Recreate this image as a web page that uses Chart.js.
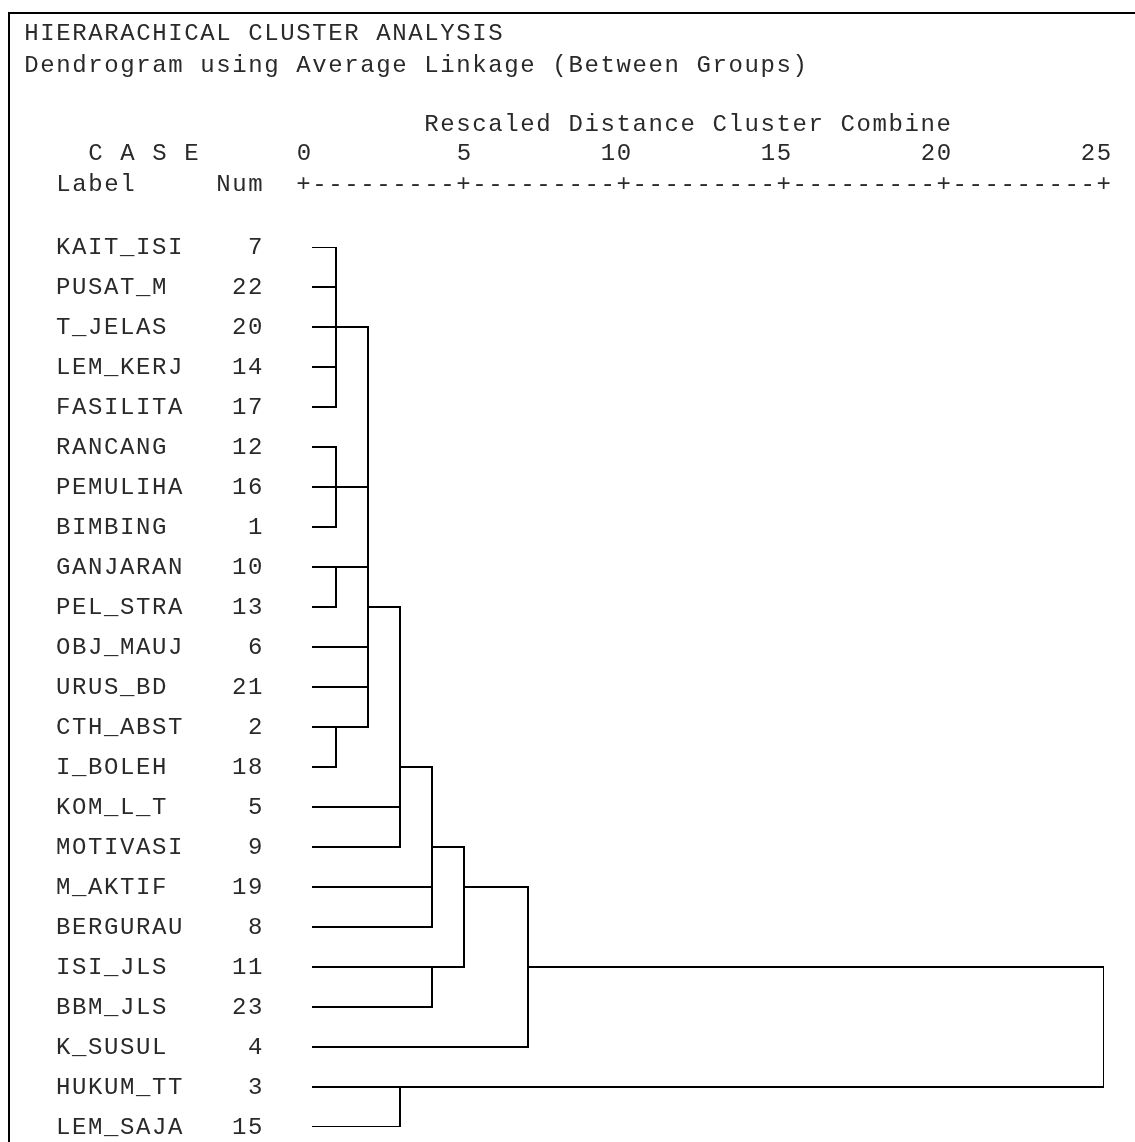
<!DOCTYPE html>
<html>
<head>
<meta charset="utf-8">
<script src="https://cdn.jsdelivr.net/npm/chart.js@4.4.1/dist/chart.umd.min.js"></script>
<style>
html,body{margin:0;padding:0;background:#fff;}
body{width:1135px;height:1142px;position:relative;overflow:hidden;}
#frame{position:absolute;left:8px;top:12px;width:1127px;height:1130px;border-top:2px solid #000;border-left:2px solid #000;box-sizing:border-box;}
#wrap{position:absolute;left:0;top:0;width:1135px;height:1142px;}
.t{position:absolute;left:24.3px;font-family:"Liberation Mono",monospace;font-size:24px;line-height:30px;letter-spacing:1.6px;white-space:pre;color:#2a2a2a;}
</style>
</head>
<body>
<div id="frame"></div>
<div id="wrap"><canvas id="c" width="1135" height="1142"></canvas></div>
<div class="t" id="l1" style="top:18.6px"></div>
<div class="t" id="l2" style="top:51.1px"></div>
<div class="t" id="l3" style="top:110.1px"></div>
<div class="t" id="l4" style="top:139.1px"></div>
<div class="t" id="l5" style="top:169.6px"></div>
<script>
// ---- data ----
const titleLine = "HIERARACHICAL CLUSTER ANALYSIS";
const subtitleLine = "Dendrogram using Average Linkage (Between Groups)";
const axisTitle = "Rescaled Distance Cluster Combine";
const caseHeader = "C A S E";
const labelHeader = "Label";
const numHeader = "Num";

// cases in dendrogram order
const caseLabels = ["KAIT_ISI","PUSAT_M","T_JELAS","LEM_KERJ","FASILITA","RANCANG","PEMULIHA","BIMBING",
  "GANJARAN","PEL_STRA","OBJ_MAUJ","URUS_BD","CTH_ABST","I_BOLEH","KOM_L_T","MOTIVASI","M_AKTIF",
  "BERGURAU","ISI_JLS","BBM_JLS","K_SUSUL","HUKUM_TT","LEM_SAJA"];
const caseNums = [7,22,20,14,17,12,16,1,10,13,6,21,2,18,5,9,19,8,11,23,4,3,15];

// agglomeration schedule (negative = case number, positive = earlier stage)
const mergeA = [-7,-14,1,3,-12,5,-10,-2,4,9,10,-21,11,13,14,-3,15,17,-11,18,20,21];
const mergeB = [-22,-17,-20,2,-16,-1,-13,-18,6,7,-6,8,12,-5,-9,-15,-19,-8,-23,19,-4,16];
const mergeDist = [1,1,1,1,1,1,1,1,2,2,2,2,2,3,3,3,4,4,4,5,7,25];

const xTicks = [0,5,10,15,20,25];
const leafStart = 0.25;

// ---- header text ----
const pad = (s, n) => s + " ".repeat(Math.max(0, n - s.length));
document.getElementById('l1').textContent = titleLine;
document.getElementById('l2').textContent = subtitleLine;
document.getElementById('l3').textContent = " ".repeat(25) + axisTitle;
document.getElementById('l4').textContent = "    " + caseHeader;
let ruler = "+";
for (let i = 1; i < xTicks.length; i++) ruler += "-".repeat(9) + "+";
document.getElementById('l5').textContent = pad("  " + labelHeader, 12) + numHeader + "  " + ruler;

// ---- dendrogram segments ----
const rowOfCase = {};
caseNums.forEach((n, i) => { rowOfCase[n] = i; });
const outRow = [];
function info(ref) {
  return ref < 0 ? { row: rowOfCase[-ref], x: leafStart } : { row: outRow[ref - 1], x: mergeDist[ref - 1] };
}
const datasets = mergeA.map((a, i) => {
  const A = info(a), B = info(mergeB[i]), d = mergeDist[i];
  outRow.push(Math.floor((A.row + B.row) / 2));
  return {
    data: [{x: A.x, y: A.row}, {x: d, y: A.row}, {x: d, y: B.row}, {x: B.x, y: B.row}],
    showLine: true, borderColor: '#000', borderWidth: 2, pointRadius: 0, fill: false,
    tension: 0, borderJoinStyle: 'miter', borderCapStyle: 'butt'
  };
});

const monoFont = {family: "'Liberation Mono', monospace", size: 24};

new Chart(document.getElementById('c').getContext('2d'), {
  type: 'scatter',
  data: {datasets},
  options: {
    responsive: false,
    animation: false,
    devicePixelRatio: 1,
    layout: {padding: {left: 56, right: 31, top: 0, bottom: 15}},
    plugins: {legend: {display: false}, tooltip: {enabled: false}},
    scales: {
      x: {
        type: 'linear', position: 'top', min: 0, max: 25,
        afterBuildTicks: s => { s.ticks = xTicks.map(v => ({value: v})); },
        afterFit: s => { s.height = 247; s.paddingLeft = 0; s.paddingRight = 0; },
        grid: {display: false, drawTicks: false},
        border: {display: false},
        ticks: {font: monoFont, color: '#2a2a2a', align: 'end', labelOffset: 8.8, padding: 79,
                maxRotation: 0, autoSkip: false, callback: v => String(v)}
      },
      y: {
        type: 'linear', reverse: true, min: 0, max: caseLabels.length - 1,
        afterBuildTicks: s => { s.ticks = caseLabels.map((_, i) => ({value: i})); },
        afterFit: s => { s.width = 248; s.paddingTop = 0; s.paddingBottom = 0; },
        grid: {display: false, drawTicks: false},
        border: {display: false},
        ticks: {font: monoFont, color: '#2a2a2a', crossAlign: 'far', padding: 0, autoSkip: false,
                labelOffset: 0.5,
                callback: v => pad(caseLabels[v], 10) + String(caseNums[v]).padStart(3)}
      }
    }
  },
  plugins: [{id: 'letterSpacing', beforeDraw(c) { c.ctx.letterSpacing = '1.6px'; }}]
});
</script>
</body>
</html>
